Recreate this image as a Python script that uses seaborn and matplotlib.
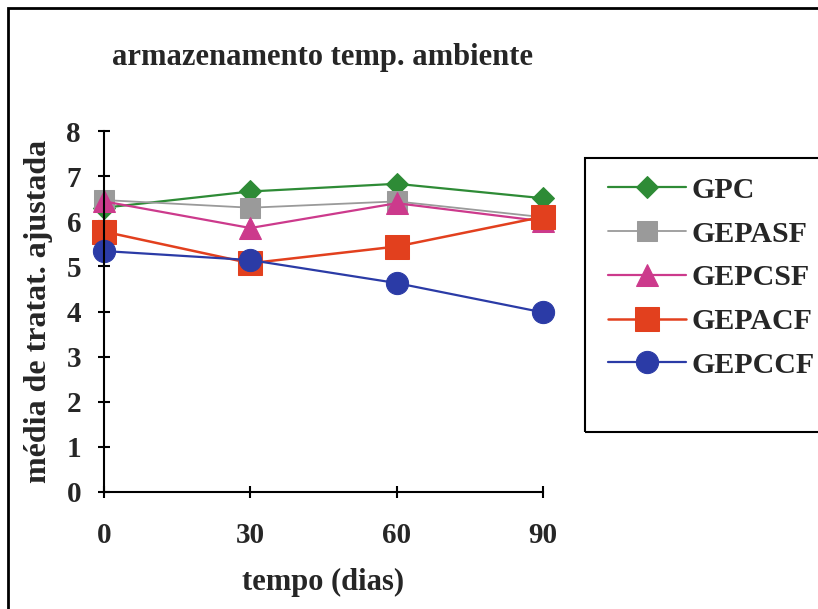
import matplotlib
matplotlib.use("Agg")
import matplotlib.pyplot as plt
import seaborn as sns
import pandas as pd
from matplotlib.patches import Rectangle

days = [0, 30, 60, 90]
series_names = ["GPC", "GEPASF", "GEPCSF", "GEPACF", "GEPCCF"]
gpc = [6.30, 6.66, 6.83, 6.51]
gepasf = [6.47, 6.30, 6.44, 6.09]
gepcsf = [6.44, 5.85, 6.40, 6.00]
gepacf = [5.77, 5.07, 5.44, 6.10]
gepccf = [5.34, 5.14, 4.63, 3.98]
y_ticks = [0, 1, 2, 3, 4, 5, 6, 7, 8]

title = "armazenamento temp. ambiente"
xlabel = "tempo (dias)"
ylabel = "média de tratat. ajustada"

values = {"GPC": gpc, "GEPASF": gepasf, "GEPCSF": gepcsf, "GEPACF": gepacf, "GEPCCF": gepccf}
rows = []
for name in series_names:
    for d, v in zip(days, values[name]):
        rows.append({"tempo": d, "valor": v, "serie": name})
df = pd.DataFrame(rows)

styles = {
    "GPC": dict(color="#2E8B36", marker="D", ms=11, lw=1.6),
    "GEPASF": dict(color="#9A9A9A", marker="s", ms=14, lw=1.3),
    "GEPCSF": dict(color="#CC3A8C", marker="^", ms=16, lw=1.6),
    "GEPACF": dict(color="#E2401E", marker="s", ms=17, lw=1.8),
    "GEPCCF": dict(color="#2B3BA6", marker="o", ms=16, lw=1.6),
}

sns.set_theme(style="white")
plt.rcParams["font.family"] = ["Liberation Serif", "DejaVu Serif"]
plt.rcParams["font.weight"] = "bold"

fig = plt.figure(figsize=(8.18, 6.09), dpi=100)
W, H = 818, 609
ax = fig.add_axes([104 / W, 1 - 492 / H, (543 - 104) / W, (492 - 131) / H])

for name in series_names:
    st = styles[name]
    sns.lineplot(data=df[df["serie"] == name], x="tempo", y="valor", ax=ax,
                 color=st["color"], marker=st["marker"], markersize=st["ms"],
                 linewidth=st["lw"], markeredgecolor=st["color"], label=name,
                 legend=False, errorbar=None, clip_on=False)

ax.set_xlim(0, 90)
ax.set_ylim(0, 8)
ax.set_xticks(days)
ax.set_yticks(y_ticks)
ax.set_xticklabels([str(d) for d in days], fontsize=21, fontweight="bold")
ax.set_yticklabels([str(t) for t in y_ticks], fontsize=21, fontweight="bold")
for s in ["top", "right"]:
    ax.spines[s].set_visible(False)
for s in ["left", "bottom"]:
    ax.spines[s].set_color("black")
    ax.spines[s].set_linewidth(1.5)
ax.tick_params(axis="both", direction="inout", length=9, width=1.5, color="black",
               left=True, bottom=True)
ax.tick_params(axis="x", pad=17)
ax.tick_params(axis="y", pad=12)
ax.set_xlabel(xlabel, fontsize=22, fontweight="bold")
ax.set_ylabel(ylabel, fontsize=23, fontweight="bold")
ax.xaxis.set_label_coords(0.5, (492 - 568) / (492 - 131))
ax.yaxis.set_label_coords((53 - 104) / (543 - 104), 0.5)
ax.patch.set_alpha(0)

fig.text(323 / W, 1 - 58 / H, title, ha="center", va="center",
         fontsize=22, fontweight="bold")

handles, labels = ax.get_legend_handles_labels()
leg = fig.legend(handles, labels, loc="upper left",
                 bbox_to_anchor=(596 / W, 1 - 165 / H), frameon=False,
                 prop={"size": 21.5, "weight": "bold"}, handlelength=2.6,
                 handletextpad=0.2, labelspacing=0.56, borderaxespad=0)

fig.patches.append(Rectangle((585 / W, 1 - 432 / H), 300 / W, (432 - 158) / H,
                             transform=fig.transFigure, fill=False,
                             edgecolor="black", linewidth=1.5))
fig.patches.append(Rectangle((8 / W, -0.2), 1.5, 1.2 - 8 / H,
                             transform=fig.transFigure, fill=False,
                             edgecolor="black", linewidth=2.0))

fig.savefig("out.png", dpi=100, facecolor="white")
